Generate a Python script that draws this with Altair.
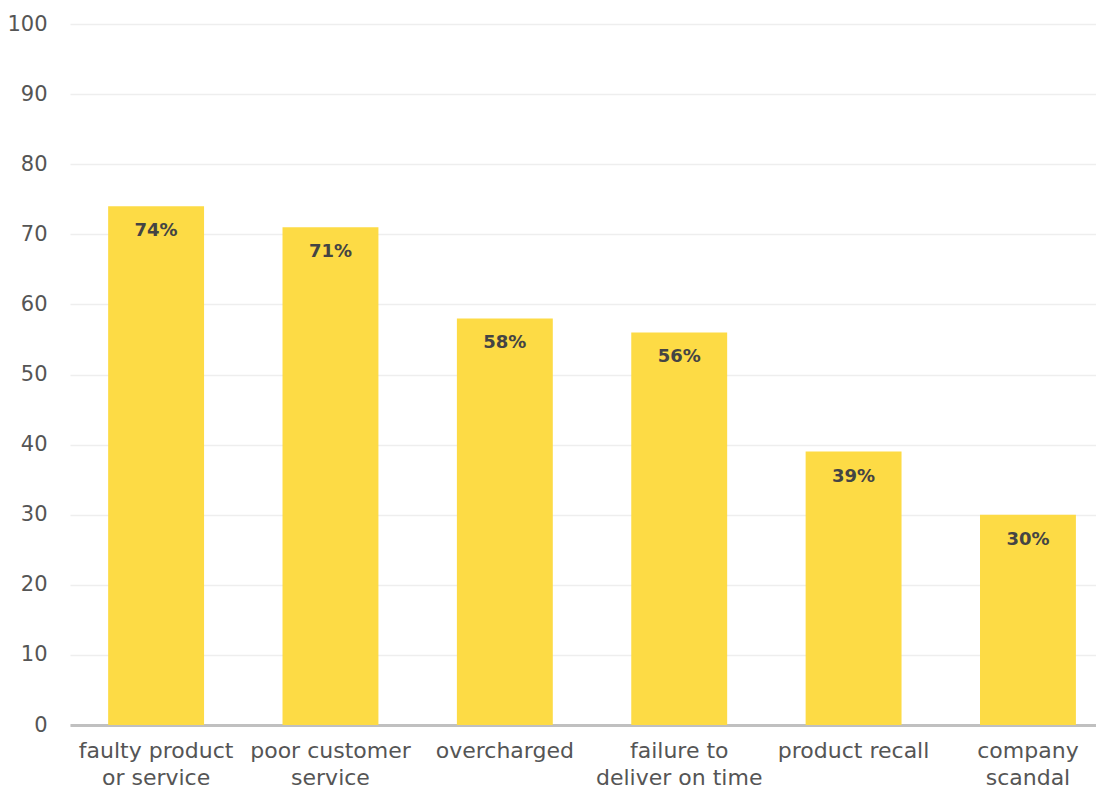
import altair as alt
import pandas as pd

categories = ["faulty product|or service", "poor customer|service", "overcharged",
              "failure to|deliver on time", "product recall", "company|scandal"]
values = [74, 71, 58, 56, 39, 30]
value_labels = ["74%", "71%", "58%", "56%", "39%", "30%"]
y_ticks = [0, 10, 20, 30, 40, 50, 60, 70, 80, 90, 100]

df = pd.DataFrame({"cat": categories, "value": values, "label": value_labels})

FONT = "DejaVu Sans"

x = alt.X("cat:N", sort=categories, title=None,
          scale=alt.Scale(paddingInner=0.45, paddingOuter=0.167, align=0.655),
          axis=alt.Axis(labelAngle=0, labelExpr="split(datum.label, '|')",
                        labelFontSize=22, labelColor="#555555", labelFont=FONT,
                        labelLineHeight=27, labelPadding=15, ticks=False,
                        domainColor="#C0C0C0", domainWidth=3, grid=False))

y = alt.Y("value:Q", title=None,
          scale=alt.Scale(domain=[0, 100], nice=False),
          axis=alt.Axis(values=y_ticks, labelFontSize=21, labelColor="#555555",
                        labelFont=FONT, labelPadding=23, ticks=False, domain=False,
                        gridColor="#EEEEEE", gridWidth=1.5))

bars = alt.Chart(df).mark_bar(color="#FDDB45").encode(x=x, y=y)
text = alt.Chart(df).mark_text(dy=25, fontSize=18, fontWeight="bold", color="#444444",
                               font=FONT, baseline="middle").encode(
    x=alt.X("cat:N", sort=categories), y="value:Q", text="label:N")

chart = (bars + text).properties(
    width=1026, height=701,
    autosize=alt.AutoSizeParams(type="none"),
    padding={"left": 62, "top": 16, "right": 0, "bottom": 63},
).configure_view(stroke=None)

chart.save("out.html", embed_options={"renderer": "svg", "actions": False})
